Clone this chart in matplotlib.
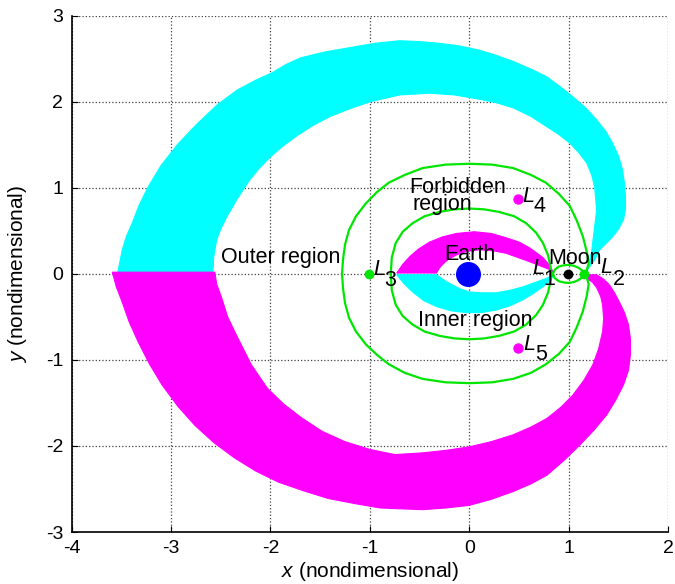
import matplotlib
matplotlib.use("Agg")
import matplotlib.pyplot as plt

plt.rcParams['font.family'] = ['Liberation Sans', 'DejaVu Sans']
plt.rcParams['mathtext.fontset'] = 'custom'
plt.rcParams['mathtext.rm'] = 'Liberation Sans'
plt.rcParams['mathtext.it'] = 'Liberation Sans:italic'
plt.rcParams['axes.unicode_minus'] = False

# outer unstable tube (upper, cyan) - outer and inner edges
cyan_out_x = [1.17, 1.22, 1.26, 1.31, 1.38, 1.44, 1.50, 1.55, 1.57, 1.57, 1.56, 1.54, 1.50, 1.44,
              1.37, 1.28, 1.17, 1.04, 0.92, 0.78, 0.62, 0.44, 0.27, 0.10, -0.10, -0.30, -0.50,
              -0.70, -0.95, -1.20, -1.45, -1.70, -1.85, -1.98, -2.15, -2.33, -2.53, -2.74, -2.93,
              -3.10, -3.23, -3.32, -3.39, -3.45, -3.49, -3.54]
cyan_out_y = [0.02, 0.10, 0.16, 0.28, 0.36, 0.43, 0.52, 0.63, 0.76, 0.90, 1.05, 1.21, 1.37, 1.52,
              1.66, 1.79, 1.93, 2.06, 2.17, 2.29, 2.38, 2.47, 2.54, 2.60, 2.65, 2.68, 2.70,
              2.71, 2.68, 2.63, 2.58, 2.51, 2.43, 2.34, 2.25, 2.14, 1.97, 1.74, 1.51,
              1.26, 1.01, 0.80, 0.59, 0.43, 0.28, -0.01]
cyan_in_x = [1.17, 1.21, 1.23, 1.24, 1.26, 1.28, 1.27, 1.26, 1.23, 1.18, 1.10, 1.01, 0.90, 0.78,
             0.62, 0.44, 0.27, 0.10, -0.15, -0.40, -0.70, -1.00, -1.20, -1.40, -1.58, -1.74,
             -1.88, -2.00, -2.11, -2.21, -2.34, -2.44, -2.50, -2.54, -2.57, -2.58]
cyan_in_y = [0.02, 0.16, 0.26, 0.36, 0.55, 0.74, 0.88, 1.01, 1.15, 1.29, 1.41, 1.52, 1.62, 1.71,
             1.83, 1.93, 1.99, 2.03, 2.08, 2.10, 2.08, 2.00, 1.92, 1.83, 1.72, 1.60,
             1.48, 1.36, 1.23, 1.09, 0.86, 0.66, 0.52, 0.40, 0.20, -0.01]

# outer stable tube (lower, magenta)
mag_out_x = [1.17, 1.28, 1.35, 1.41, 1.46, 1.51, 1.56, 1.60, 1.62, 1.62, 1.60, 1.55, 1.47, 1.38,
             1.25, 1.11, 0.95, 0.78, 0.62, 0.44, 0.22, 0.00, -0.23, -0.47, -0.70, -0.90, -1.15,
             -1.42, -1.67, -1.92, -2.15, -2.36, -2.57, -2.76, -2.93, -3.09, -3.22, -3.33, -3.42,
             -3.49, -3.55, -3.59]
mag_out_y = [-0.01, -0.01, -0.06, -0.13, -0.22, -0.33, -0.45, -0.59, -0.76, -0.94, -1.12, -1.29,
             -1.47, -1.64, -1.82, -1.99, -2.17, -2.34, -2.44, -2.53, -2.62, -2.69, -2.72, -2.74,
             -2.73, -2.72, -2.67, -2.61, -2.52, -2.42, -2.29, -2.14, -1.96, -1.76, -1.54, -1.29,
             -1.04, -0.79, -0.56, -0.33, -0.15, 0.02]
mag_in_x = [1.17, 1.18, 1.24, 1.28, 1.32, 1.34, 1.35, 1.34, 1.30, 1.24, 1.15, 1.04, 0.92, 0.78,
            0.62, 0.44, 0.22, 0.00, -0.23, -0.47, -0.75, -1.00, -1.25, -1.48, -1.69, -1.87,
            -2.03, -2.19, -2.33, -2.43, -2.49, -2.54, -2.56]
mag_in_y = [-0.02, -0.05, -0.10, -0.16, -0.26, -0.36, -0.52, -0.67, -0.87, -1.06, -1.24, -1.41,
            -1.55, -1.68, -1.78, -1.87, -1.95, -2.01, -2.05, -2.08, -2.10, -2.04, -1.95, -1.83,
            -1.67, -1.51, -1.33, -1.06, -0.74, -0.50, -0.28, -0.12, 0.02]

# inner tubes between L1 and the x axis near L3
imag_out_x = [0.84, 0.80, 0.74, 0.61, 0.50, 0.37, 0.22, 0.05, -0.13, -0.27, -0.40, -0.51,
              -0.60, -0.67, -0.73]
imag_out_y = [0.03, 0.11, 0.19, 0.30, 0.37, 0.42, 0.47, 0.49, 0.47, 0.43, 0.37, 0.29,
              0.20, 0.11, 0.01]
imag_in_x = [0.84, 0.81, 0.72, 0.61, 0.49, 0.37, 0.23, 0.10, -0.03, -0.13, -0.21, -0.26,
             -0.30, -0.33]
imag_in_y = [0.02, 0.05, 0.09, 0.14, 0.19, 0.24, 0.27, 0.28, 0.26, 0.22, 0.17, 0.12,
             0.07, 0.01]

icyan_out_x = [0.84, 0.80, 0.74, 0.64, 0.54, 0.41, 0.27, 0.12, -0.03, -0.18, -0.33, -0.46,
               -0.57, -0.66, -0.73]
icyan_out_y = [-0.03, -0.09, -0.15, -0.23, -0.30, -0.37, -0.42, -0.45, -0.45, -0.43, -0.38,
               -0.31, -0.21, -0.11, -0.01]
icyan_in_x = [0.84, 0.78, 0.66, 0.54, 0.41, 0.27, 0.13, 0.00, -0.10, -0.20, -0.27, -0.33]
icyan_in_y = [-0.01, -0.05, -0.10, -0.15, -0.19, -0.22, -0.22, -0.21, -0.17, -0.11, -0.06, -0.01]

# zero velocity curves
zvc_outer_x = [-1.28, -1.27, -1.25, -1.21, -1.14, -1.04, -0.93, -0.81, -0.65, -0.47, -0.24, 0.00,
               0.23, 0.44, 0.62, 0.77, 0.90, 1.01, 1.08, 1.14, 1.18, 1.20, 1.17,
               1.20, 1.18, 1.14, 1.08, 1.01, 0.90, 0.77, 0.62, 0.44, 0.23, 0.00,
               -0.24, -0.47, -0.65, -0.81, -0.93, -1.04, -1.14, -1.21, -1.25, -1.27, -1.28]
zvc_outer_y = [0.00, 0.17, 0.34, 0.51, 0.67, 0.82, 0.95, 1.06, 1.15, 1.23, 1.27, 1.28,
               1.27, 1.23, 1.15, 1.06, 0.93, 0.79, 0.62, 0.44, 0.26, 0.12, 0.00,
               -0.12, -0.26, -0.44, -0.62, -0.79, -0.93, -1.05, -1.15, -1.22, -1.26, -1.27,
               -1.26, -1.22, -1.15, -1.05, -0.94, -0.82, -0.67, -0.51, -0.34, -0.17, 0.00]
zvc_inner_x = [-0.79, -0.78, -0.74, -0.67, -0.57, -0.45, -0.30, -0.15, 0.00, 0.15, 0.30, 0.45,
               0.57, 0.67, 0.74, 0.79, 0.81, 0.83,
               0.81, 0.79, 0.74, 0.67, 0.57, 0.45, 0.30, 0.15, 0.00, -0.15, -0.30, -0.45,
               -0.57, -0.67, -0.74, -0.78, -0.79]
zvc_inner_y = [0.00, 0.19, 0.36, 0.49, 0.59, 0.67, 0.72, 0.75, 0.76, 0.75, 0.72, 0.67,
               0.59, 0.48, 0.36, 0.22, 0.12, 0.00,
               -0.12, -0.22, -0.36, -0.48, -0.59, -0.67, -0.72, -0.75, -0.76, -0.75, -0.72, -0.67,
               -0.59, -0.49, -0.36, -0.19, 0.00]
zvc_moon_x = [0.84, 0.86, 0.90, 0.95, 1.00, 1.05, 1.10, 1.14, 1.16,
              1.14, 1.10, 1.05, 1.00, 0.95, 0.90, 0.86, 0.84]
zvc_moon_y = [0.00, 0.05, 0.085, 0.10, 0.105, 0.095, 0.07, 0.035, 0.00,
              -0.035, -0.07, -0.095, -0.105, -0.10, -0.085, -0.05, 0.00]

# bodies and libration points
earth = (-0.012, 0.0)
moon = (0.988, 0.0)
l_green_x = [1.156, -1.005]
l_green_y = [0.0, 0.0]
l_mag_x = [0.488, 0.488]
l_mag_y = [0.866, -0.866]

# region labels: text, x, y (baseline, left edge)
region_labels = [('Outer region', -2.50, 0.13), ('Forbidden', -0.60, 0.935),
                 ('region', -0.57, 0.74), ('Earth', -0.25, 0.16), ('Moon', 0.79, 0.12),
                 ('Inner region', -0.52, -0.60)]
# libration point labels: index, L position, subscript position
lp_labels = [('1', (0.63, 0.00), (0.745, -0.13)), ('2', (1.32, 0.01), (1.44, -0.13)),
             ('3', (-0.97, -0.01), (-0.855, -0.14)), ('4', (0.53, 0.83), (0.65, 0.72)),
             ('5', (0.54, -0.88), (0.66, -1.00))]

CYAN = '#00ffff'
MAGENTA = '#ff00ff'
GREEN = '#00e600'

fig = plt.figure(figsize=(6.75, 5.84), dpi=100)
ax = fig.add_axes([0.106, 0.089, 0.884, 0.884])


def tube(xo, yo, xi, yi, color):
    px = list(xo) + list(reversed(xi))
    py = list(yo) + list(reversed(yi))
    ax.fill(px, py, color=color, lw=0.8, zorder=2)


tube(cyan_out_x, cyan_out_y, cyan_in_x, cyan_in_y, CYAN)
tube(mag_out_x, mag_out_y, mag_in_x, mag_in_y, MAGENTA)
tube(imag_out_x, imag_out_y, imag_in_x, imag_in_y, MAGENTA)
tube(icyan_out_x, icyan_out_y, icyan_in_x, icyan_in_y, CYAN)

for cx, cy in [(zvc_outer_x, zvc_outer_y), (zvc_inner_x, zvc_inner_y), (zvc_moon_x, zvc_moon_y)]:
    ax.plot(cx, cy, color=GREEN, lw=1.6, zorder=3)

ax.plot(*earth, 'o', color='#0000ff', ms=17, zorder=4)
ax.plot(*moon, 'o', color='black', ms=6, zorder=4)
ax.plot(l_green_x, l_green_y, 'o', color=GREEN, ms=6, ls='none', zorder=4)
ax.plot(l_mag_x, l_mag_y, 'o', color=MAGENTA, ms=6.5, ls='none', zorder=4)

fs = 15.5
for s, x, y in region_labels:
    ax.text(x, y, s, fontsize=fs, ha='left', va='baseline', zorder=5)
for n, (lx, ly), (sx, sy) in lp_labels:
    ax.text(lx, ly, 'L', fontsize=fs, style='italic', ha='left', va='baseline', zorder=5)
    ax.text(sx, sy, n, fontsize=fs, ha='left', va='baseline', zorder=5)

ax.set_xlim(-4, 2)
ax.set_ylim(-3, 3)
ax.set_xticks(range(-4, 3))
ax.set_yticks(range(-3, 4))
ax.tick_params(direction='in', length=4, labelsize=14, pad=6)
ax.grid(True, ls=':', color='0.25', lw=0.9)
ax.set_axisbelow(True)
for s in ['top', 'right']:
    ax.spines[s].set_visible(False)
for s in ['left', 'bottom']:
    ax.spines[s].set_linewidth(1.2)

ax.set_xlabel('$x$ (nondimensional)', fontsize=15, labelpad=2)
ax.set_ylabel('$y$ (nondimensional)', fontsize=15, labelpad=12)

fig.savefig('out.png', dpi=100)
